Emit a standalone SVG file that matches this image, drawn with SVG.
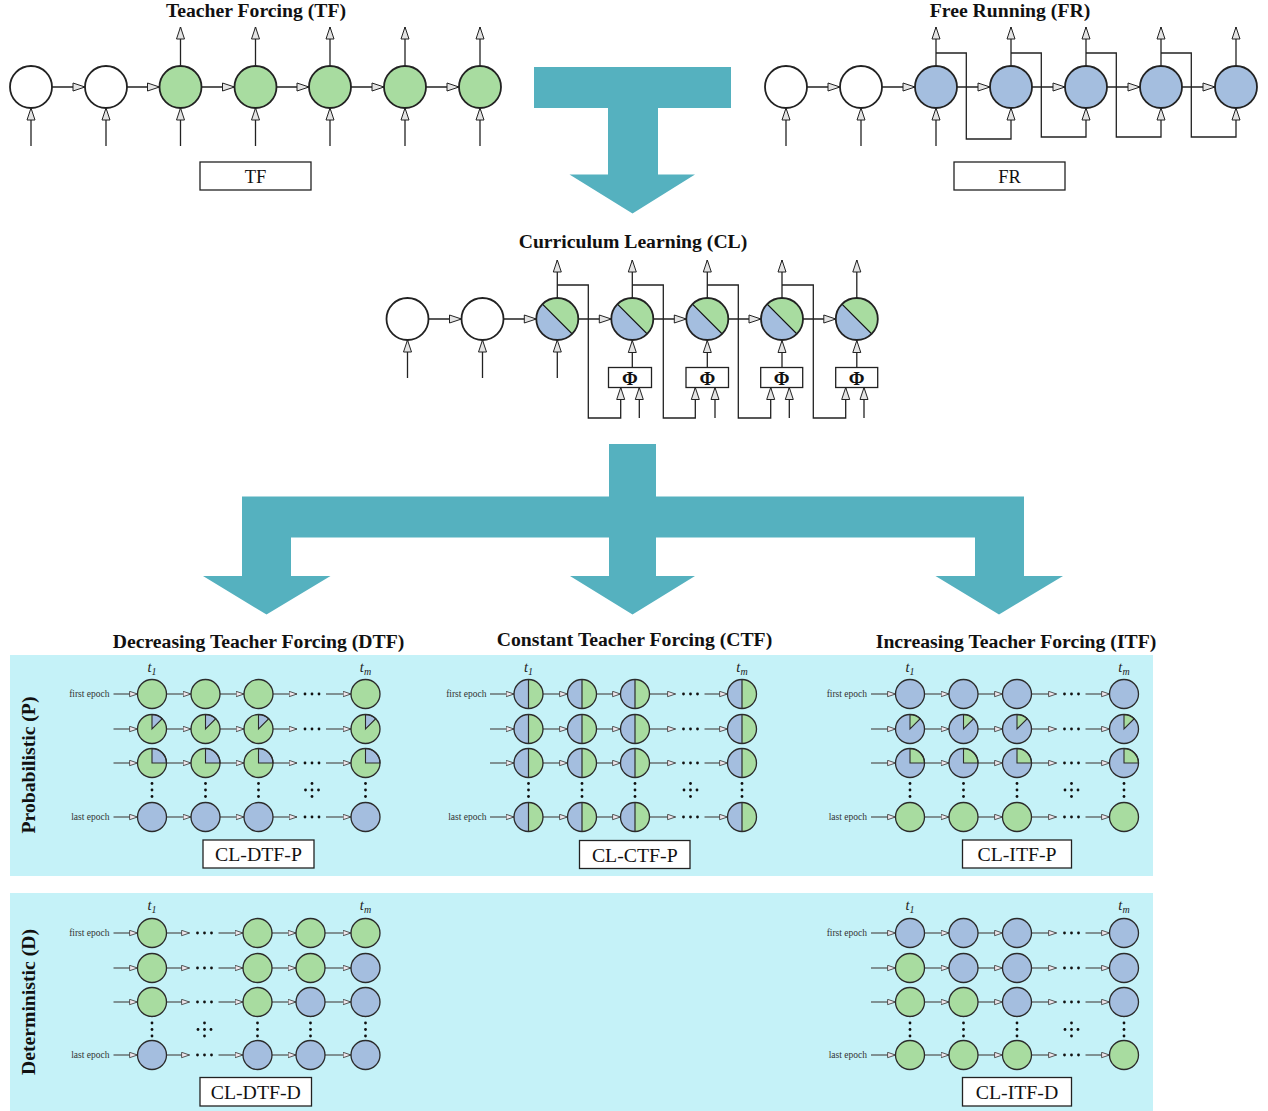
<svg xmlns="http://www.w3.org/2000/svg" width="1268" height="1111" viewBox="0 0 1268 1111">
<style>
.ttl{font-family:"Liberation Serif",serif;font-weight:bold;font-size:19.7px;text-anchor:middle;fill:#111}
.lbl{font-family:"Liberation Serif",serif;font-size:19.8px;text-anchor:middle;fill:#111}
.ep{font-family:"Liberation Serif",serif;font-size:9.5px;text-anchor:end;fill:#333}
.t{font-family:"Liberation Serif",serif;font-style:italic;font-size:14.5px;text-anchor:middle;fill:#222}
.phi{font-family:"Liberation Serif",serif;font-weight:bold;font-size:19px;text-anchor:middle;fill:#111}
.a{fill:none;stroke:#222;stroke-width:1.3;marker-end:url(#ah)}
.ga{fill:none;stroke:#505050;stroke-width:1.2;marker-end:url(#sa)}
.nw{fill:#fff;stroke:#222;stroke-width:1.8}
.ng{fill:#a8dca0;stroke:#222;stroke-width:1.8}
.nb{fill:#a4bedf;stroke:#222;stroke-width:1.8}
.box{fill:#fff;stroke:#222;stroke-width:1.3}
.teal{fill:#55b1bf}
.panel{fill:#c5f2f8}
.dot{fill:#111}
</style>
<defs>
<marker id="ah" viewBox="0 0 14 10" refX="13" refY="5" markerWidth="14" markerHeight="10" markerUnits="userSpaceOnUse" orient="auto"><path d="M1,1 L13,5 L1,9 Z" fill="#e4e4e4" stroke="#222" stroke-width="1"/></marker>
<marker id="sa" viewBox="0 0 9 7" refX="8.5" refY="3.5" markerWidth="9" markerHeight="7" markerUnits="userSpaceOnUse" orient="auto"><path d="M0.6,0.8 L8.5,3.5 L0.6,6.2 Z" fill="#efe6ec" stroke="#444" stroke-width="0.9"/></marker>
<g id="cl"><circle r="21" fill="#a4bedf"/><path d="M-14.85,-14.85 A21,21 0 0 1 14.85,14.85 Z" fill="#a8dca0"/><path d="M-14.85,-14.85 L14.85,14.85" stroke="#111" stroke-width="1.3"/><circle r="21" fill="none" stroke="#222" stroke-width="1.8"/></g>
<g id="gG"><circle r="14.5" fill="#a8dca0" stroke="#2b2b2b" stroke-width="1.3"/></g>
<g id="gB"><circle r="14.5" fill="#a4bedf" stroke="#2b2b2b" stroke-width="1.3"/></g>
<g id="pGb8"><circle r="14.5" fill="#a8dca0"/><path d="M0,0 V-14.5 A14.5,14.5 0 0 1 10.25,-10.25 Z" fill="#a4bedf" stroke="#2b2b2b" stroke-width="1.1"/><circle r="14.5" fill="none" stroke="#2b2b2b" stroke-width="1.3"/></g>
<g id="pGb4"><circle r="14.5" fill="#a8dca0"/><path d="M0,0 V-14.5 A14.5,14.5 0 0 1 14.5,0 Z" fill="#a4bedf" stroke="#2b2b2b" stroke-width="1.1"/><circle r="14.5" fill="none" stroke="#2b2b2b" stroke-width="1.3"/></g>
<g id="pBg8"><circle r="14.5" fill="#a4bedf"/><path d="M0,0 V-14.5 A14.5,14.5 0 0 1 10.25,-10.25 Z" fill="#a8dca0" stroke="#2b2b2b" stroke-width="1.1"/><circle r="14.5" fill="none" stroke="#2b2b2b" stroke-width="1.3"/></g>
<g id="pBg4"><circle r="14.5" fill="#a4bedf"/><path d="M0,0 V-14.5 A14.5,14.5 0 0 1 14.5,0 Z" fill="#a8dca0" stroke="#2b2b2b" stroke-width="1.1"/><circle r="14.5" fill="none" stroke="#2b2b2b" stroke-width="1.3"/></g>
<g id="pH"><circle r="14.5" fill="#a4bedf"/><path d="M0,-14.5 A14.5,14.5 0 0 1 0,14.5 Z" fill="#a8dca0"/><path d="M0,-14.5 V14.5" stroke="#2b2b2b" stroke-width="1.2"/><circle r="14.5" fill="none" stroke="#2b2b2b" stroke-width="1.3"/></g>
<g id="hd"><circle cx="-7" r="1.4" class="dot"/><circle r="1.4" class="dot"/><circle cx="7" r="1.4" class="dot"/></g>
<g id="vd"><circle cy="-6.5" r="1.4" class="dot"/><circle r="1.4" class="dot"/><circle cy="6.5" r="1.4" class="dot"/></g>
<g id="pd"><circle cy="-6.5" r="1.4" class="dot"/><circle cx="-6.5" r="1.4" class="dot"/><circle r="1.4" class="dot"/><circle cx="6.5" r="1.4" class="dot"/><circle cy="6.5" r="1.4" class="dot"/></g>
</defs>
<rect width="1268" height="1111" fill="#fff"/>

<!-- big teal arrows -->
<g id="flow-arrows">
<polygon class="teal" points="534,67 731,67 731,108 658,108 658,174.5 695,174.5 632.5,213.5 569.5,174.5 608,174.5 608,108 534,108"/>
<polygon class="teal" points="609,444 656,444 656,496.5 1024,496.5 1024,576 1063,576 999,614.5 935.5,576 975,576 975,537.5 656,537.5 656,576 695,576 632.5,614.5 570,576 609,576 609,537.5 291,537.5 291,576 330.5,576 266.5,614.5 203,576 242,576 242,496.5 609,496.5"/>
</g>

<!-- panels -->
<rect class="panel" x="10" y="655" width="1143" height="221"/>
<rect class="panel" x="10" y="893" width="1143" height="218"/>

<!-- titles -->
<text class="ttl" x="256" y="17">Teacher Forcing (TF)</text>
<text class="ttl" x="1010" y="17">Free Running (FR)</text>
<text class="ttl" x="633" y="248">Curriculum Learning (CL)</text>
<text class="ttl" x="258.5" y="648">Decreasing Teacher Forcing (DTF)</text>
<text class="ttl" x="634.5" y="646">Constant Teacher Forcing (CTF)</text>
<text class="ttl" x="1016" y="648">Increasing Teacher Forcing (ITF)</text>
<text class="ttl" transform="translate(35,765) rotate(-90)">Probabilistic (P)</text>
<text class="ttl" transform="translate(35,1002) rotate(-90)">Deterministic (D)</text>

<!-- connectors -->
<g id="connectors">
<!-- TF -->
<path class="a" d="M52 87H85"/><path class="a" d="M127 87H159.5"/><path class="a" d="M201.5 87H234.5"/><path class="a" d="M276.5 87H309"/><path class="a" d="M351 87H384"/><path class="a" d="M426 87H459"/>
<path class="a" d="M31 146V108"/><path class="a" d="M106 146V108"/><path class="a" d="M180.5 146V108"/><path class="a" d="M255.5 146V108"/><path class="a" d="M330 146V108"/><path class="a" d="M405 146V108"/><path class="a" d="M480 146V108"/>
<path class="a" d="M180.5 66V27"/><path class="a" d="M255.5 66V27"/><path class="a" d="M330 66V27"/><path class="a" d="M405 66V27"/><path class="a" d="M480 66V27"/>
<!-- FR -->
<path class="a" d="M807 87H840"/><path class="a" d="M882 87H915"/><path class="a" d="M957 87H990"/><path class="a" d="M1032 87H1065"/><path class="a" d="M1107 87H1140"/><path class="a" d="M1182 87H1215"/>
<path class="a" d="M786 146V108"/><path class="a" d="M861 146V108"/><path class="a" d="M936 146V108"/>
<path class="a" d="M936 66V27"/><path class="a" d="M1011 66V27"/><path class="a" d="M1086 66V27"/><path class="a" d="M1161 66V27"/><path class="a" d="M1236 66V27"/>
<path class="a" d="M936 53H966.3V139H1011V108"/>
<path class="a" d="M1011 53H1041.3V137H1086V108"/>
<path class="a" d="M1086 53H1116.3V137H1161V108"/>
<path class="a" d="M1161 53H1191.3V137H1236V108"/>
<!-- CL -->
<path class="a" d="M428.5 319H461.5"/><path class="a" d="M503.5 319H536.3"/><path class="a" d="M578.3 319H611.3"/><path class="a" d="M653.3 319H686.3"/><path class="a" d="M728.3 319H761"/><path class="a" d="M803 319H835.8"/>
<path class="a" d="M407.5 378V340"/><path class="a" d="M482.5 378V340"/><path class="a" d="M557.3 378V340"/>
<path class="a" d="M557.3 298V260"/><path class="a" d="M632.3 298V260"/><path class="a" d="M707.3 298V260"/><path class="a" d="M782 298V260"/><path class="a" d="M856.8 298V260"/>
<path class="a" d="M557.3 285H588.3V418H620.7V387.5"/><path class="a" d="M639.3 418V387.5"/><path class="a" d="M632.3 367.5V340.5"/>
<path class="a" d="M632.3 285H663.3V418H695.3V387.5"/><path class="a" d="M715 418V387.5"/><path class="a" d="M707.3 367.5V340.5"/>
<path class="a" d="M707.3 285H738.3V418H770.7V387.5"/><path class="a" d="M789.3 418V387.5"/><path class="a" d="M782 367.5V340.5"/>
<path class="a" d="M782 285H813.3V418H845.7V387.5"/><path class="a" d="M864 418V387.5"/><path class="a" d="M856.8 367.5V340.5"/>
</g>

<!-- TF nodes -->
<g id="tf-nodes">
<circle id="tf1" class="nw" cx="31" cy="87" r="21"/>
<circle id="tf2" class="nw" cx="106" cy="87" r="21"/>
<circle id="tf3" class="ng" cx="180.5" cy="87" r="21"/>
<circle id="tf4" class="ng" cx="255.5" cy="87" r="21"/>
<circle id="tf5" class="ng" cx="330" cy="87" r="21"/>
<circle id="tf6" class="ng" cx="405" cy="87" r="21"/>
<circle id="tf7" class="ng" cx="480" cy="87" r="21"/>
<g id="tf-box"><rect class="box" x="200" y="162" width="111" height="28"/><text class="lbl" x="255.5" y="182.5" style="font-size:18.5px">TF</text></g>
</g>
<!-- FR nodes -->
<g id="fr-nodes">
<circle id="fr1" class="nw" cx="786" cy="87" r="21"/>
<circle id="fr2" class="nw" cx="861" cy="87" r="21"/>
<circle id="fr3" class="nb" cx="936" cy="87" r="21"/>
<circle id="fr4" class="nb" cx="1011" cy="87" r="21"/>
<circle id="fr5" class="nb" cx="1086" cy="87" r="21"/>
<circle id="fr6" class="nb" cx="1161" cy="87" r="21"/>
<circle id="fr7" class="nb" cx="1236" cy="87" r="21"/>
<g id="fr-box"><rect class="box" x="954" y="162" width="111" height="28"/><text class="lbl" x="1009.5" y="182.5" style="font-size:18.5px">FR</text></g>
</g>
<!-- CL nodes -->
<g id="cl-nodes">
<circle id="cl1" class="nw" cx="407.5" cy="319" r="21"/>
<circle id="cl2" class="nw" cx="482.5" cy="319" r="21"/>
<use id="cl3" href="#cl" x="557.3" y="319"/>
<use id="cl4" href="#cl" x="632.3" y="319"/>
<use id="cl5" href="#cl" x="707.3" y="319"/>
<use id="cl6" href="#cl" x="782" y="319"/>
<use id="cl7" href="#cl" x="856.8" y="319"/>
<g id="phi1"><rect class="box" x="608.5" y="367.5" width="43" height="20"/><text class="phi" x="630" y="384.5">Φ</text></g>
<g id="phi2"><rect class="box" x="686" y="367.5" width="42.5" height="20"/><text class="phi" x="707.3" y="384.5">Φ</text></g>
<g id="phi3"><rect class="box" x="760.7" y="367.5" width="42" height="20"/><text class="phi" x="781.7" y="384.5">Φ</text></g>
<g id="phi4"><rect class="box" x="835.7" y="367.5" width="42" height="20"/><text class="phi" x="856.7" y="384.5">Φ</text></g>
</g>

<!-- CL-DTF-P -->
<g id="cl-dtf-p">
<text class="t" x="152" y="671.5">t<tspan dy="3" font-size="10">1</tspan></text>
<text class="t" x="365.5" y="671.5">t<tspan dy="3" font-size="10">m</tspan></text>
<text class="ep" x="109.5" y="697">first epoch</text>
<text class="ep" x="109.5" y="820">last epoch</text>
<path class="ga" d="M113.5 694H137.5"/><path class="ga" d="M166.5 694H191"/><path class="ga" d="M220 694H244"/><path class="ga" d="M273 694H297"/><path class="ga" d="M326 694H351"/>
<path class="ga" d="M113.5 729H137.5"/><path class="ga" d="M166.5 729H191"/><path class="ga" d="M220 729H244"/><path class="ga" d="M273 729H297"/><path class="ga" d="M326 729H351"/>
<path class="ga" d="M113.5 763H137.5"/><path class="ga" d="M166.5 763H191"/><path class="ga" d="M220 763H244"/><path class="ga" d="M273 763H297"/><path class="ga" d="M326 763H351"/>
<path class="ga" d="M113.5 817H137.5"/><path class="ga" d="M166.5 817H191"/><path class="ga" d="M220 817H244"/><path class="ga" d="M273 817H297"/><path class="ga" d="M326 817H351"/>
<use href="#hd" x="312" y="694"/><use href="#hd" x="312" y="729"/><use href="#hd" x="312" y="763"/><use href="#hd" x="312" y="817"/>
<use href="#vd" x="152" y="790"/><use href="#vd" x="205.5" y="790"/><use href="#vd" x="258.5" y="790"/><use href="#vd" x="365.5" y="790"/><use href="#pd" x="312" y="790"/>
<use id="dp11" href="#gG" x="152" y="694"/><use id="dp12" href="#gG" x="205.5" y="694"/><use id="dp13" href="#gG" x="258.5" y="694"/><use id="dp14" href="#gG" x="365.5" y="694"/>
<use id="dp21" href="#pGb8" x="152" y="729"/><use id="dp22" href="#pGb8" x="205.5" y="729"/><use id="dp23" href="#pGb8" x="258.5" y="729"/><use id="dp24" href="#pGb8" x="365.5" y="729"/>
<use id="dp31" href="#pGb4" x="152" y="763"/><use id="dp32" href="#pGb4" x="205.5" y="763"/><use id="dp33" href="#pGb4" x="258.5" y="763"/><use id="dp34" href="#pGb4" x="365.5" y="763"/>
<use id="dp41" href="#gB" x="152" y="817"/><use id="dp42" href="#gB" x="205.5" y="817"/><use id="dp43" href="#gB" x="258.5" y="817"/><use id="dp44" href="#gB" x="365.5" y="817"/>
<g id="dtfp-box"><rect class="box" x="203" y="840" width="111" height="28"/><text class="lbl" x="258.5" y="861">CL-DTF-P</text></g>
</g>

<!-- CL-CTF-P -->
<g id="cl-ctf-p">
<text class="t" x="528.5" y="671.5">t<tspan dy="3" font-size="10">1</tspan></text>
<text class="t" x="742" y="671.5">t<tspan dy="3" font-size="10">m</tspan></text>
<text class="ep" x="486.5" y="697">first epoch</text>
<text class="ep" x="486.5" y="820">last epoch</text>
<path class="ga" d="M490 694H514"/><path class="ga" d="M543 694H567.5"/><path class="ga" d="M596.5 694H620.5"/><path class="ga" d="M649.5 694H675.5"/><path class="ga" d="M704.5 694H727.5"/>
<path class="ga" d="M490 729H514"/><path class="ga" d="M543 729H567.5"/><path class="ga" d="M596.5 729H620.5"/><path class="ga" d="M649.5 729H675.5"/><path class="ga" d="M704.5 729H727.5"/>
<path class="ga" d="M490 763H514"/><path class="ga" d="M543 763H567.5"/><path class="ga" d="M596.5 763H620.5"/><path class="ga" d="M649.5 763H675.5"/><path class="ga" d="M704.5 763H727.5"/>
<path class="ga" d="M490 817H514"/><path class="ga" d="M543 817H567.5"/><path class="ga" d="M596.5 817H620.5"/><path class="ga" d="M649.5 817H675.5"/><path class="ga" d="M704.5 817H727.5"/>
<use href="#hd" x="690.5" y="694"/><use href="#hd" x="690.5" y="729"/><use href="#hd" x="690.5" y="763"/><use href="#hd" x="690.5" y="817"/>
<use href="#vd" x="528.5" y="790"/><use href="#vd" x="582" y="790"/><use href="#vd" x="635" y="790"/><use href="#vd" x="742" y="790"/><use href="#pd" x="690.5" y="790"/>
<use id="cp11" href="#pH" x="528.5" y="694"/><use id="cp12" href="#pH" x="582" y="694"/><use id="cp13" href="#pH" x="635" y="694"/><use id="cp14" href="#pH" x="742" y="694"/>
<use id="cp21" href="#pH" x="528.5" y="729"/><use id="cp22" href="#pH" x="582" y="729"/><use id="cp23" href="#pH" x="635" y="729"/><use id="cp24" href="#pH" x="742" y="729"/>
<use id="cp31" href="#pH" x="528.5" y="763"/><use id="cp32" href="#pH" x="582" y="763"/><use id="cp33" href="#pH" x="635" y="763"/><use id="cp34" href="#pH" x="742" y="763"/>
<use id="cp41" href="#pH" x="528.5" y="817"/><use id="cp42" href="#pH" x="582" y="817"/><use id="cp43" href="#pH" x="635" y="817"/><use id="cp44" href="#pH" x="742" y="817"/>
<g id="ctfp-box"><rect class="box" x="579.5" y="840.5" width="110.5" height="28"/><text class="lbl" x="634.8" y="861.5">CL-CTF-P</text></g>
</g>

<!-- CL-ITF-P -->
<g id="cl-itf-p">
<text class="t" x="910" y="671.5">t<tspan dy="3" font-size="10">1</tspan></text>
<text class="t" x="1124" y="671.5">t<tspan dy="3" font-size="10">m</tspan></text>
<text class="ep" x="867" y="697">first epoch</text>
<text class="ep" x="867" y="820">last epoch</text>
<path class="ga" d="M871 694H895.5"/><path class="ga" d="M924.5 694H949"/><path class="ga" d="M978 694H1002.5"/><path class="ga" d="M1031.5 694H1056.5"/><path class="ga" d="M1085.5 694H1109.5"/>
<path class="ga" d="M871 729H895.5"/><path class="ga" d="M924.5 729H949"/><path class="ga" d="M978 729H1002.5"/><path class="ga" d="M1031.5 729H1056.5"/><path class="ga" d="M1085.5 729H1109.5"/>
<path class="ga" d="M871 763H895.5"/><path class="ga" d="M924.5 763H949"/><path class="ga" d="M978 763H1002.5"/><path class="ga" d="M1031.5 763H1056.5"/><path class="ga" d="M1085.5 763H1109.5"/>
<path class="ga" d="M871 817H895.5"/><path class="ga" d="M924.5 817H949"/><path class="ga" d="M978 817H1002.5"/><path class="ga" d="M1031.5 817H1056.5"/><path class="ga" d="M1085.5 817H1109.5"/>
<use href="#hd" x="1071.5" y="694"/><use href="#hd" x="1071.5" y="729"/><use href="#hd" x="1071.5" y="763"/><use href="#hd" x="1071.5" y="817"/>
<use href="#vd" x="910" y="790"/><use href="#vd" x="963.5" y="790"/><use href="#vd" x="1017" y="790"/><use href="#vd" x="1124" y="790"/><use href="#pd" x="1071.5" y="790"/>
<use id="ip11" href="#gB" x="910" y="694"/><use id="ip12" href="#gB" x="963.5" y="694"/><use id="ip13" href="#gB" x="1017" y="694"/><use id="ip14" href="#gB" x="1124" y="694"/>
<use id="ip21" href="#pBg8" x="910" y="729"/><use id="ip22" href="#pBg8" x="963.5" y="729"/><use id="ip23" href="#pBg8" x="1017" y="729"/><use id="ip24" href="#pBg8" x="1124" y="729"/>
<use id="ip31" href="#pBg4" x="910" y="763"/><use id="ip32" href="#pBg4" x="963.5" y="763"/><use id="ip33" href="#pBg4" x="1017" y="763"/><use id="ip34" href="#pBg4" x="1124" y="763"/>
<use id="ip41" href="#gG" x="910" y="817"/><use id="ip42" href="#gG" x="963.5" y="817"/><use id="ip43" href="#gG" x="1017" y="817"/><use id="ip44" href="#gG" x="1124" y="817"/>
<g id="itfp-box"><rect class="box" x="962.5" y="840" width="109" height="28"/><text class="lbl" x="1017" y="861">CL-ITF-P</text></g>
</g>

<!-- CL-DTF-D -->
<g id="cl-dtf-d">
<text class="t" x="152" y="910">t<tspan dy="3" font-size="10">1</tspan></text>
<text class="t" x="365.5" y="910">t<tspan dy="3" font-size="10">m</tspan></text>
<text class="ep" x="109.5" y="936">first epoch</text>
<text class="ep" x="109.5" y="1058">last epoch</text>
<path class="ga" d="M113.5 933H137.5"/><path class="ga" d="M166.5 933H189.5"/><path class="ga" d="M218.5 933H243"/><path class="ga" d="M272 933H296"/><path class="ga" d="M325 933H351"/>
<path class="ga" d="M113.5 968H137.5"/><path class="ga" d="M166.5 968H189.5"/><path class="ga" d="M218.5 968H243"/><path class="ga" d="M272 968H296"/><path class="ga" d="M325 968H351"/>
<path class="ga" d="M113.5 1002H137.5"/><path class="ga" d="M166.5 1002H189.5"/><path class="ga" d="M218.5 1002H243"/><path class="ga" d="M272 1002H296"/><path class="ga" d="M325 1002H351"/>
<path class="ga" d="M113.5 1055H137.5"/><path class="ga" d="M166.5 1055H189.5"/><path class="ga" d="M218.5 1055H243"/><path class="ga" d="M272 1055H296"/><path class="ga" d="M325 1055H351"/>
<use href="#hd" x="204.5" y="933"/><use href="#hd" x="204.5" y="968"/><use href="#hd" x="204.5" y="1002"/><use href="#hd" x="204.5" y="1055"/>
<use href="#vd" x="152" y="1029.5"/><use href="#vd" x="257.5" y="1029.5"/><use href="#vd" x="310.5" y="1029.5"/><use href="#vd" x="365.5" y="1029.5"/><use href="#pd" x="204.5" y="1029.5"/>
<use id="dd11" href="#gG" x="152" y="933"/><use id="dd12" href="#gG" x="257.5" y="933"/><use id="dd13" href="#gG" x="310.5" y="933"/><use id="dd14" href="#gG" x="365.5" y="933"/>
<use id="dd21" href="#gG" x="152" y="968"/><use id="dd22" href="#gG" x="257.5" y="968"/><use id="dd23" href="#gG" x="310.5" y="968"/><use id="dd24" href="#gB" x="365.5" y="968"/>
<use id="dd31" href="#gG" x="152" y="1002"/><use id="dd32" href="#gG" x="257.5" y="1002"/><use id="dd33" href="#gB" x="310.5" y="1002"/><use id="dd34" href="#gB" x="365.5" y="1002"/>
<use id="dd41" href="#gB" x="152" y="1055"/><use id="dd42" href="#gB" x="257.5" y="1055"/><use id="dd43" href="#gB" x="310.5" y="1055"/><use id="dd44" href="#gB" x="365.5" y="1055"/>
<g id="dtfd-box"><rect class="box" x="200" y="1077.5" width="111.5" height="28.5"/><text class="lbl" x="255.8" y="1098.5">CL-DTF-D</text></g>
</g>

<!-- CL-ITF-D -->
<g id="cl-itf-d">
<text class="t" x="910" y="910">t<tspan dy="3" font-size="10">1</tspan></text>
<text class="t" x="1124" y="910">t<tspan dy="3" font-size="10">m</tspan></text>
<text class="ep" x="867" y="936">first epoch</text>
<text class="ep" x="867" y="1058">last epoch</text>
<path class="ga" d="M871 933H895.5"/><path class="ga" d="M924.5 933H949"/><path class="ga" d="M978 933H1002.5"/><path class="ga" d="M1031.5 933H1056.5"/><path class="ga" d="M1085.5 933H1109.5"/>
<path class="ga" d="M871 968H895.5"/><path class="ga" d="M924.5 968H949"/><path class="ga" d="M978 968H1002.5"/><path class="ga" d="M1031.5 968H1056.5"/><path class="ga" d="M1085.5 968H1109.5"/>
<path class="ga" d="M871 1002H895.5"/><path class="ga" d="M924.5 1002H949"/><path class="ga" d="M978 1002H1002.5"/><path class="ga" d="M1031.5 1002H1056.5"/><path class="ga" d="M1085.5 1002H1109.5"/>
<path class="ga" d="M871 1055H895.5"/><path class="ga" d="M924.5 1055H949"/><path class="ga" d="M978 1055H1002.5"/><path class="ga" d="M1031.5 1055H1056.5"/><path class="ga" d="M1085.5 1055H1109.5"/>
<use href="#hd" x="1071.5" y="933"/><use href="#hd" x="1071.5" y="968"/><use href="#hd" x="1071.5" y="1002"/><use href="#hd" x="1071.5" y="1055"/>
<use href="#vd" x="910" y="1029.5"/><use href="#vd" x="963.5" y="1029.5"/><use href="#vd" x="1017" y="1029.5"/><use href="#vd" x="1124" y="1029.5"/><use href="#pd" x="1071.5" y="1029.5"/>
<use id="id11" href="#gB" x="910" y="933"/><use id="id12" href="#gB" x="963.5" y="933"/><use id="id13" href="#gB" x="1017" y="933"/><use id="id14" href="#gB" x="1124" y="933"/>
<use id="id21" href="#gG" x="910" y="968"/><use id="id22" href="#gB" x="963.5" y="968"/><use id="id23" href="#gB" x="1017" y="968"/><use id="id24" href="#gB" x="1124" y="968"/>
<use id="id31" href="#gG" x="910" y="1002"/><use id="id32" href="#gG" x="963.5" y="1002"/><use id="id33" href="#gB" x="1017" y="1002"/><use id="id34" href="#gB" x="1124" y="1002"/>
<use id="id41" href="#gG" x="910" y="1055"/><use id="id42" href="#gG" x="963.5" y="1055"/><use id="id43" href="#gG" x="1017" y="1055"/><use id="id44" href="#gG" x="1124" y="1055"/>
<g id="itfd-box"><rect class="box" x="962.5" y="1077.5" width="109" height="28.5"/><text class="lbl" x="1017" y="1098.5">CL-ITF-D</text></g>
</g>
</svg>
